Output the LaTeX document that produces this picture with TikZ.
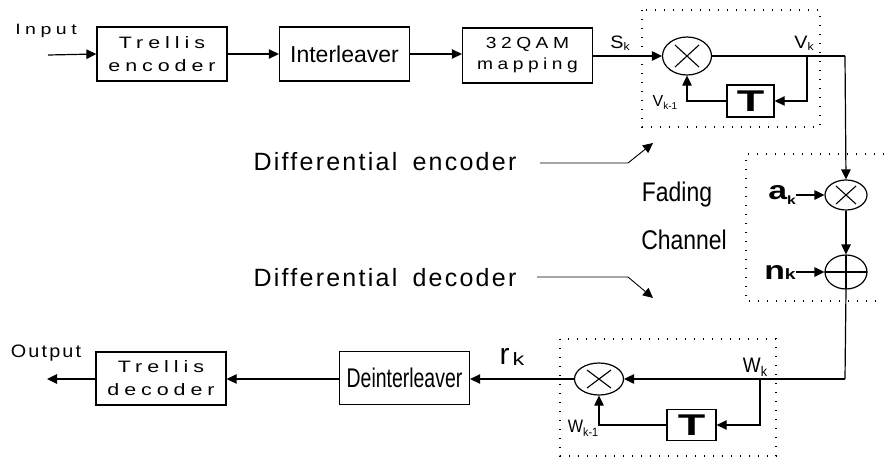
\documentclass[tikz,border=0pt]{standalone}
\usepackage{fontspec}
\setmainfont{Liberation Sans}
\usetikzlibrary{shapes.geometric,arrows.meta,calc}
\newcommand{\ff}[4]{\fontspec[FakeStretch=#1,LetterSpace=#2]{Liberation Sans}\fontsize{#3pt}{#4pt}\selectfont}
\newcommand{\xmark}[3]{\draw[line width=1.1pt] ($(#1)+(-#2,-#3)$) -- ($(#1)+(#2,#3)$) ($(#1)+(-#2,#3)$) -- ($(#1)+(#2,-#3)$);}
\newcommand{\pmark}[3]{\draw[line width=1.1pt] ($(#1)+(-#2,0)$) -- ($(#1)+(#2,0)$) ($(#1)+(0,-#3)$) -- ($(#1)+(0,#3)$);}
\begin{document}
\begin{tikzpicture}[x=1pt,y=-1pt,
  blk/.style={draw, line width=1.3pt, minimum width=130pt, minimum height=54pt, inner sep=0pt, align=center},
  tbox/.style={draw, line width=1.3pt, minimum width=47pt, minimum height=32pt, inner sep=0pt},
  mult/.style={ellipse, draw, line width=1.2pt, inner sep=0pt},
  arr/.style={-{Triangle[length=10pt,width=9.5pt]}, line width=1.2pt},
  ln/.style={line width=1.2pt},
  dotbox/.style={line width=1.3pt, dash pattern=on 1.3pt off 7.7pt},
  lbl/.style={inner sep=0pt, anchor=center},
  widefont/.style={font={\ff{1.3}{30}{16.5}{23}}}]
\useasboundingbox (0,0) rectangle (884,458);

% dotted groups
\draw[dotbox] (642,10) rectangle (820,127);
\draw[dotbox] (884,154) -- (746,154) -- (746,301) -- (884,301);
\draw[dotbox] (560,339) rectangle (776,456);

% top row
\node[lbl] (inlbl) at (46,31) {\ff{1.3}{30}{15}{18}Input};
\coordinate (inS) at (48,55);
\node[blk, widefont] (te) at (162,54) {Trellis\\encoder};
\node[blk] (il) at (344.5,54) {\ff{1.0}{0}{23}{26}Interleaver};
\node[blk, minimum height=55pt, font={\ff{1.2}{28}{16}{21}}] (qam) at (527.5,55.5) {32QAM\\mapping};
\node[mult, minimum width=49pt, minimum height=38pt] (m1) at (687,56) {};
\xmark{m1}{12}{11}
\node[tbox] (t1) at (750.5,101) {\ff{1.5}{0}{30}{30}\bfseries T};
\coordinate (v1) at (807,56);
\coordinate (c1) at (845,56);

\draw[arr] (inS) -- (te.west);
\draw[arr] (te.east) -- (il.west);
\draw[arr] (il.east) -- (qam.west |- il.east);
\draw[arr] (qam.east |- m1.west) -- (m1.west);
\draw[ln] (m1.east) -- (c1);
\draw[arr] (v1) |- (t1.east);
\draw[arr] (t1.west) -| (m1.south);

\node[lbl] (sk) at (620,43) {\ff{1.1}{10}{18}{18}S\raisebox{-2pt}{\fontsize{11pt}{11pt}\selectfont k}};
\node[lbl] (vk) at (804,43) {\ff{1.1}{10}{18}{18}V\raisebox{-2pt}{\fontsize{11pt}{11pt}\selectfont k}};
\node[lbl] (vk1) at (665,102) {\ff{1.0}{0}{16}{16}V\raisebox{-3pt}{\fontsize{10pt}{10pt}\selectfont k-1}};

% fading channel
\node[mult, minimum width=42pt, minimum height=30pt] (m2) at (846,195) {};
\xmark{m2}{10}{9}
\node[mult, minimum width=42pt, minimum height=34pt] (p2) at (846,272) {};
\pmark{p2}{21}{17}
\node[lbl] (fading) at (677,195) {\ff{0.85}{0}{27}{27}Fading};
\node[lbl] (channel) at (684,240) {\ff{0.85}{0}{27}{27}Channel};
\node[lbl, anchor=east] (ak) at (796,195) {\ff{1.3}{0}{26}{26}\bfseries a\raisebox{-5pt}{\fontsize{12pt}{12pt}\selectfont k}};
\node[lbl, anchor=east] (nk) at (796,272) {\ff{1.3}{0}{26}{26}\bfseries n\fontsize{15pt}{15pt}\selectfont k};
\draw[arr] (c1) -- (m2.north);
\draw[arr] (ak.east) -- (m2.west);
\draw[arr] (m2.south) -- (p2.north);
\draw[arr] (nk.east) -- (p2.west);

% annotations
\node[lbl] (denc) at (385,162) {\ff{1.0}{9}{25}{25}Differential\hspace{6pt} encoder};
\node[lbl] (ddec) at (385,278) {\ff{1.0}{9}{25}{25}Differential\hspace{6pt} decoder};
\coordinate (e1) at (540,163);
\coordinate (e2) at (628,163);
\coordinate (e3) at (653,143);
\coordinate (d1) at (537,277);
\coordinate (d2) at (628,277);
\coordinate (d3) at (653,298);
\draw[arr, line width=0.9pt] (e1) -- (e2) -- (e3);
\draw[arr, line width=0.9pt] (d1) -- (d2) -- (d3);

% bottom row
\node[mult, minimum width=49pt, minimum height=32pt] (m3) at (599,379) {};
\xmark{m3}{12}{9}
\node[tbox, minimum width=49pt, minimum height=31pt] (t2) at (691.5,425) {\ff{1.5}{0}{30}{30}\bfseries T};
\coordinate (w1) at (760,379);
\coordinate (c2) at (845,379);
\node[blk, minimum height=53pt] (di) at (404.5,378) {\ff{0.72}{0}{27}{27}Deinterleaver};
\node[blk, minimum height=53pt, widefont] (td) at (161,378.5) {Trellis\\decoder};
\node[lbl] (outlbl) at (46,353) {\ff{1.1}{12}{18}{18}Output};
\coordinate (outE) at (47,379);

\draw[ln] (p2.south) -- (c2);
\draw[arr] (c2) -- (m3.east);
\draw[arr] (w1) |- (t2.east);
\draw[arr] (t2.west) -| (m3.south);
\draw[arr] (m3.west) -- (di.east |- m3.west);
\draw[arr] (di.west |- m3.west) -- (td.east |- m3.west);
\draw[arr] (td.west |- m3.west) -- (outE);

\node[lbl] (rk) at (512,357) {\ff{1.0}{0}{30}{30}r\hspace{3pt}\raisebox{-1pt}{\ff{1.3}{0}{18}{18}k}};
\node[lbl] (wk) at (755,367) {\ff{0.9}{0}{21}{21}W\raisebox{-4pt}{\fontsize{14pt}{14pt}\selectfont k}};
\node[lbl] (wk1) at (583,428) {\ff{0.9}{0}{18}{18}W\raisebox{-4pt}{\fontsize{12pt}{12pt}\selectfont k-1}};
\end{tikzpicture}
\end{document}
